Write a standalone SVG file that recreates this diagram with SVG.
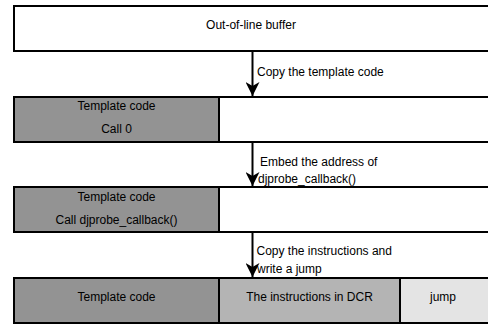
<svg xmlns="http://www.w3.org/2000/svg" width="488" height="324" viewBox="0 0 488 324">
<defs>
<style>
.b{stroke:#000;stroke-width:2}
.t{font-family:"Liberation Sans",Arial,sans-serif;font-size:12px;fill:#000}
.c{text-anchor:middle}
.w{fill:#fff}.d{fill:#939393}.m{fill:#b4b4b4}.l{fill:#e4e4e4}
</style>
<marker id="ah" markerWidth="14" markerHeight="14" refX="14" refY="7" orient="auto" markerUnits="userSpaceOnUse">
<path d="M0,0 L14,7 L0,14 L4,7 Z" fill="#000"/>
</marker>
</defs>
<g id="buffer">
<rect class="b w" x="14" y="6" width="480" height="45"/>
<text class="t c" x="251" y="29">Out-of-line buffer</text>
</g>
<g id="stage1">
<rect class="b w" x="14" y="97" width="480" height="45"/>
<rect class="b d" x="14" y="97" width="205" height="45"/>
<text class="t c" x="116.5" y="109.5">Template code</text>
<text class="t c" x="116.5" y="132.5">Call 0</text>
</g>
<g id="stage2">
<rect class="b w" x="14" y="187" width="480" height="45"/>
<rect class="b d" x="14" y="187" width="205" height="45"/>
<text class="t c" x="116.5" y="200.5">Template code</text>
<text class="t c" x="116.5" y="223.5">Call djprobe_callback()</text>
</g>
<g id="stage3">
<rect class="b l" x="14" y="278" width="480" height="45"/>
<rect class="b d" x="14" y="278" width="205" height="45"/>
<rect class="b m" x="219" y="278" width="181" height="45"/>
<text class="t c" x="116.5" y="301">Template code</text>
<text class="t c" x="309.5" y="301">The instructions in DCR</text>
<text class="t" x="430" y="301">jump</text>
</g>
<g id="connectors" stroke="#000" stroke-width="2" fill="none">
<line x1="252.5" y1="52" x2="252.5" y2="96" marker-end="url(#ah)"/>
<line x1="252.5" y1="143" x2="252.5" y2="186" marker-end="url(#ah)"/>
<line x1="252.5" y1="233" x2="252.5" y2="277" marker-end="url(#ah)"/>
</g>
<g id="labels">
<text class="t" x="257" y="76">Copy the template code</text>
<text class="t" x="260" y="166">Embed the address of</text>
<text class="t" x="258" y="183">djprobe_callback()</text>
<text class="t" x="256.5" y="255">Copy the instructions and</text>
<text class="t" x="257" y="273">write a jump</text>
</g>
</svg>
